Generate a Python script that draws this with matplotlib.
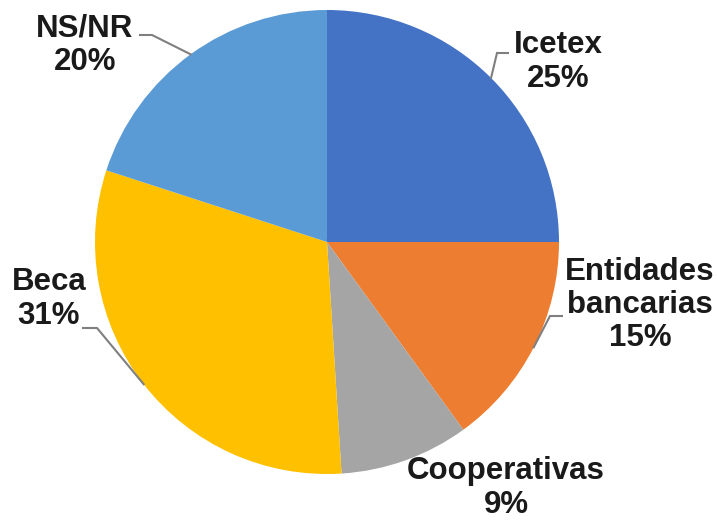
import numpy as np
import matplotlib
matplotlib.use("Agg")
import matplotlib.pyplot as plt

# data
labels = ["Icetex", "Entidades\nbancarias", "Cooperativas", "Beca", "NS/NR"]
values = [25, 15, 9, 31, 20]
colors = ["#4472C4", "#ED7D31", "#A5A5A5", "#FFC000", "#5B9BD5"]

W, H = 717, 521


def py(y):
    # pixel row (from top) -> data y
    return H - y


fig = plt.figure(figsize=(W / 100, H / 100), dpi=100)
ax = fig.add_axes([0, 0, 1, 1])

center = (327, py(242))
radius = 232
wedges, _ = ax.pie(
    values,
    colors=colors,
    startangle=90,
    counterclock=False,
    center=center,
    radius=radius,
    frame=True,
    wedgeprops=dict(linewidth=0),
)
ax.set_xlim(0, W)
ax.set_ylim(0, H)
ax.set_aspect("equal")
ax.axis("off")

# label placement: text centre, and leader (text-side point, elbow) or None
label_pos = [
    ((558, 62), ((508, 53), (497, 53))),
    ((640, 305), ((562, 316), (550, 316))),
    ((506, 488), None),
    ((49, 299), ((83, 328), (97, 328))),
    ((85, 45), ((140, 35), (152, 35))),
]

for w, lab, v, (txt, lead) in zip(wedges, labels, values, label_pos):
    ax.text(txt[0], py(txt[1]), f"{lab}\n{v}%", ha="center", va="center",
            multialignment="center", fontsize=22.5, fontweight="bold",
            family="Liberation Sans", color="#1a1a1a", linespacing=1.15)
    if lead is None:
        continue
    ang = np.deg2rad((w.theta1 + w.theta2) / 2)
    ex = center[0] + radius * np.cos(ang)
    ey = center[1] + radius * np.sin(ang)
    (tx, ty), (bx, by) = lead
    ax.plot([tx, bx, ex], [py(ty), py(by), ey], color="#7f7f7f", lw=1.5,
            solid_joinstyle="miter")

fig.savefig("out.png", dpi=100)
